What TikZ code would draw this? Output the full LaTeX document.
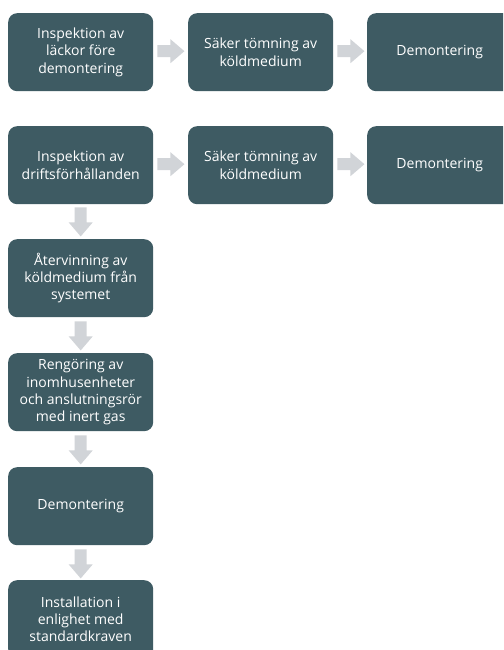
\documentclass[tikz,border=0pt]{standalone}
\usepackage{fontspec}
\setmainfont{Open Sans}
\definecolor{boxc}{HTML}{3E5B63}
\definecolor{arrc}{HTML}{D1D4D8}
\tikzset{
  stepbox/.style={fill=boxc, rounded corners=9pt, minimum width=145pt, minimum height=78pt, inner sep=0pt,
    text=white, align=center, font=\fontsize{14}{17.3}\selectfont, anchor=north west},
}
\newcommand{\rarr}[1]{\fill[arrc] ($(#1)+(0,-6)$) -- ++(13,0) -- ++(0,-6) -- ++(14,12) -- ++(-14,12) -- ++(0,-6) -- ++(-13,0) -- cycle;}
\newcommand{\darr}[1]{\fill[arrc] ($(#1)+(-6,0)$) -- ++(0,15) -- ++(-6,0) -- ++(12,14) -- ++(12,-14) -- ++(-6,0) -- ++(0,-15) -- cycle;}
\usetikzlibrary{calc}
\begin{document}
\begin{tikzpicture}[x=1pt,y=-1pt]
\clip (0,0) rectangle (503,650);
\fill[white] (0,0) rectangle (503,650);
% row 1
\node[stepbox] (a1) at (8,13) {Inspektion av\\läckor före\\demontering};
\node[stepbox] (a2) at (188,13) {Säker tömning av\\köldmedium};
\node[stepbox] (a3) at (367,13) {Demontering};
% row 2
\node[stepbox] (b1) at (8,126) {Inspektion av\\driftsförhållanden};
\node[stepbox] (b2) at (188,126) {Säker tömning av\\köldmedium};
\node[stepbox] (b3) at (367,126) {Demontering};
% column
\node[stepbox] (c1) at (8,239) {Återvinning av\\köldmedium från\\systemet};
\node[stepbox] (c2) at (8,353) {Rengöring av\\inomhusenheter\\och anslutningsrör\\med inert gas};
\node[stepbox] (c3) at (8,467) {Demontering};
\node[stepbox] (c4) at (8,580) {Installation i\\enlighet med\\standardkraven};
% arrows
\coordinate (r1) at ($(a1.east)+(4,-1)$); \rarr{r1}
\coordinate (r2) at ($(a2.east)+(4,-1)$); \rarr{r2}
\coordinate (r3) at ($(b1.east)+(4,-1)$); \rarr{r3}
\coordinate (r4) at ($(b2.east)+(4,-1)$); \rarr{r4}
\coordinate (d1) at ($(b1.south)+(0,3)$); \darr{d1}
\coordinate (d2) at ($(c1.south)+(0,4)$); \darr{d2}
\coordinate (d3) at ($(c2.south)+(0,4)$); \darr{d3}
\coordinate (d4) at ($(c3.south)+(0,4)$); \darr{d4}
\end{tikzpicture}
\end{document}
